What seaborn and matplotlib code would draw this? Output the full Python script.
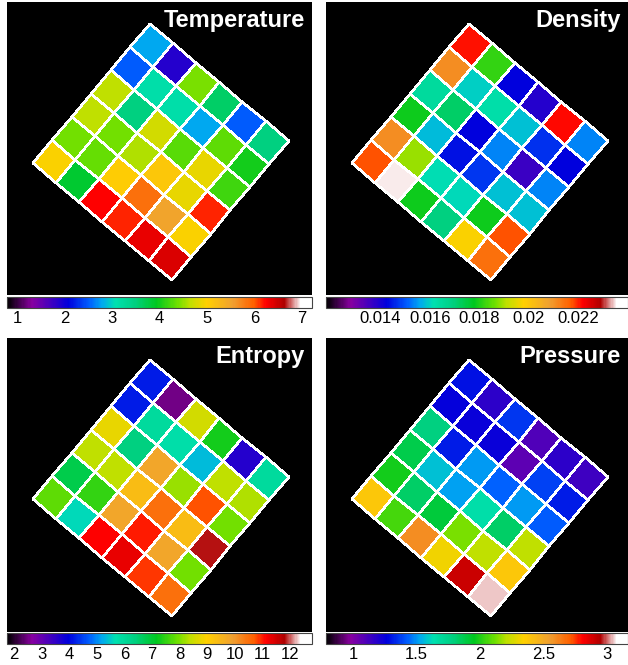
import numpy as np
import matplotlib
matplotlib.use("Agg")
import matplotlib.pyplot as plt
import seaborn as sns
from matplotlib.colors import LinearSegmentedColormap, Normalize
from matplotlib.transforms import Affine2D
import matplotlib.cm as cm

# ---------------- data (rows run down-left, columns run down-right) ----------
titles = ["Temperature", "Density", "Entropy", "Pressure"]

temperature = [
    [2.78, 1.88, 4.42, 3.61, 2.52, 3.49],
    [2.52, 3.13, 3.13, 2.78, 4.32, 4.00],
    [4.64, 3.49, 4.74, 4.29, 4.87, 4.19],
    [4.64, 4.39, 4.58, 5.09, 4.87, 6.15],
    [4.39, 4.35, 5.03, 5.86, 5.48, 4.96],
    [4.96, 3.87, 6.25, 6.15, 6.34, 6.41],
]
density = [
    [0.02205, 0.01814, 0.01424, 0.01387, 0.02211, 0.01534],
    [0.02107, 0.01595, 0.01625, 0.01583, 0.01467, 0.01424],
    [0.01644, 0.01717, 0.01424, 0.01534, 0.01363, 0.01534],
    [0.01790, 0.01577, 0.01442, 0.01473, 0.01583, 0.01583],
    [0.02107, 0.01888, 0.01613, 0.01607, 0.01790, 0.02174],
    [0.02174, 0.02351, 0.01790, 0.01692, 0.01973, 0.02144],
]
entropy = [
    [4.18, 2.52, 8.55, 7.28, 3.63, 5.95],
    [4.18, 5.95, 5.78, 5.34, 8.38, 8.27],
    [8.77, 6.39, 9.82, 8.16, 10.76, 7.94],
    [8.38, 8.38, 9.37, 10.48, 9.37, 11.81],
    [6.83, 7.50, 9.82, 11.03, 9.82, 7.94],
    [7.83, 5.62, 11.14, 11.31, 10.87, 10.48],
]
pressure = [
    [1.29, 1.17, 1.36, 1.10, 1.17, 1.14],
    [1.26, 1.25, 1.25, 1.07, 1.38, 1.31],
    [1.79, 1.31, 1.51, 1.43, 1.51, 1.42],
    [1.88, 1.57, 1.52, 1.66, 1.83, 2.21],
    [1.98, 1.83, 1.91, 2.13, 2.21, 2.38],
    [2.38, 2.06, 2.59, 2.32, 2.90, 3.05],
]

vmins = [0.79, 0.0118, 1.75, 0.787]
vmaxs = [7.21, 0.0240, 12.80, 3.166]

temperature_ticks = [1, 2, 3, 4, 5, 6, 7]
density_ticks = [0.014, 0.016, 0.018, 0.020, 0.022]
density_ticklabels = ["0.014", "0.016", "0.018", "0.02", "0.022"]
entropy_ticks = [2, 3, 4, 5, 6, 7, 8, 9, 10, 11, 12]
pressure_ticks = [1, 1.5, 2, 2.5, 3]
pressure_ticklabels = ["1", "1.5", "2", "2.5", "3"]

# ---------------- style ----------------
sns.set_style("white")
plt.rcParams["font.family"] = ["Liberation Sans", "DejaVu Sans"]

cmap = LinearSegmentedColormap.from_list("rainbow_white", [
    (0.000, "#000000"),
    (0.080, "#8800a0"),
    (0.200, "#0000dd"),
    (0.270, "#0060ff"),
    (0.310, "#00a8f0"),
    (0.355, "#00e0b0"),
    (0.420, "#00d080"),
    (0.490, "#00c820"),
    (0.560, "#70e000"),
    (0.600, "#c0e000"),
    (0.655, "#ffd000"),
    (0.740, "#f0a030"),
    (0.810, "#ff6000"),
    (0.850, "#ff0000"),
    (0.910, "#b00000"),
    (0.965, "#ffffff"),
    (1.000, "#ffffff"),
])

FW, FH = 628, 665
fig = plt.figure(figsize=(FW / 100, FH / 100), dpi=100)
fig.patch.set_facecolor("white")


def px_axes(x0, y0, w, h):
    return fig.add_axes([x0 / FW, 1 - (y0 + h) / FH, w / FW, h / FH])


# (left, top, width, height, colorbar top)
layout = [
    (7, 2, 305, 293, 297),
    (326, 2, 302, 293, 297),
    (7, 338, 305, 294, 633),
    (326, 338, 302, 294, 633),
]
datasets = [temperature, density, entropy, pressure]
tick_sets = [
    (temperature_ticks, [str(t) for t in temperature_ticks]),
    (density_ticks, density_ticklabels),
    (entropy_ticks, [str(t) for t in entropy_ticks]),
    (pressure_ticks, pressure_ticklabels),
]

cell = 30.3
ang = np.deg2rad(40.0)
top_corner = (142.5, 22.0)
ax_vec = (cell * np.cos(ang), cell * np.sin(ang))
b_vec = (-cell * np.sin(ang), cell * np.cos(ang))

for k in range(4):
    x0, y0, w, h, cy = layout[k]
    ax = px_axes(x0, y0, w, h)
    ax.set_facecolor("black")
    arr = np.array(datasets[k])
    sns.heatmap(arr, ax=ax, cmap=cmap, vmin=vmins[k], vmax=vmaxs[k],
                linewidths=1.1, linecolor="white", cbar=False,
                xticklabels=False, yticklabels=False)
    mesh = ax.collections[0]
    M = np.array([[ax_vec[0], b_vec[0], top_corner[0]],
                  [ax_vec[1], b_vec[1], top_corner[1]],
                  [0, 0, 1]])
    mesh.set_transform(Affine2D(M) + ax.transData)
    ax.set_xlim(0, w)
    ax.set_ylim(h, 0)
    ax.set_aspect("auto")
    ax.set_xticks([])
    ax.set_yticks([])
    for s in ax.spines.values():
        s.set_visible(False)
    ax.text(w - 7, 25, titles[k], ha="right", va="baseline", color="white",
            fontsize=17, fontweight="bold")

    cax = px_axes(x0, cy, w, 11)
    sm = cm.ScalarMappable(norm=Normalize(vmins[k], vmaxs[k]), cmap=cmap)
    cb = fig.colorbar(sm, cax=cax, orientation="horizontal")
    ticks, labels = tick_sets[k]
    cb.set_ticks(ticks)
    cb.set_ticklabels(labels)
    cb.outline.set_edgecolor("#444444")
    cb.outline.set_linewidth(0.8)
    cax.tick_params(axis="x", direction="in", length=3, width=0.8,
                    colors="black", labelsize=12, pad=2)

fig.savefig("out.png", dpi=100, facecolor="white")
